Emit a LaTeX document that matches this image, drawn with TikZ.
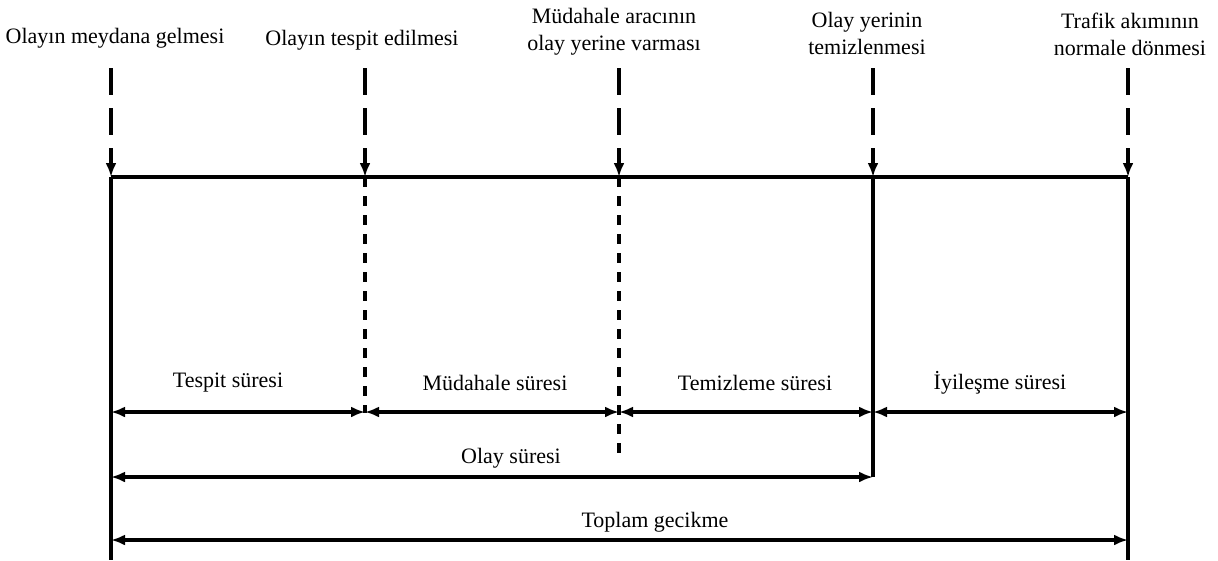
\documentclass[tikz,border=0pt]{standalone}
\usepackage{fontspec}
\setmainfont{Liberation Serif}
\usetikzlibrary{arrows.meta}

\begin{document}
\begin{tikzpicture}[x=1pt, y=-1pt,
    every node/.style={font=\fontsize{22}{27}\selectfont, align=center, inner sep=0pt},
    axisline/.style={line width=3.5pt},
    evarrow/.style={line width=3.5pt, dash pattern=on 27pt off 13pt, -{Latex[length=14pt,width=11pt]}},
    gapline/.style={line width=3.5pt, dash pattern=on 10pt off 9pt},
    span/.style={line width=3.5pt, {Latex[length=14pt,width=11pt]}-{Latex[length=14pt,width=11pt]}}]
  \useasboundingbox (0,0) rectangle (1218,560);

  % olaylar
  \node (ev1) at (115,38) {Olayın meydana gelmesi};
  \node (ev2) at (362,40) {Olayın tespit edilmesi};
  \node (ev3) at (614,32) {Müdahale aracının\\olay yerine varması};
  \node (ev4) at (867,33) {Olay yerinin\\temizlenmesi};
  \node (ev5) at (1130,34) {Trafik akımının\\normale dönmesi};

  \coordinate (t1) at (111,68);  \coordinate (a1) at (111,177);
  \coordinate (t2) at (365,68);  \coordinate (a2) at (365,177);
  \coordinate (t3) at (619,68);  \coordinate (a3) at (619,177);
  \coordinate (t4) at (873,68);  \coordinate (a4) at (873,177);
  \coordinate (t5) at (1128,68); \coordinate (a5) at (1128,177);

  \draw[evarrow] (t1) -- (a1);
  \draw[evarrow] (t2) -- (a2);
  \draw[evarrow] (t3) -- (a3);
  \draw[evarrow] (t4) -- (a4);
  \draw[evarrow] (t5) -- (a5);
  \draw[axisline] (a1) -- (a5);

  % dikey cizgiler
  \coordinate (b1) at (111,560);
  \coordinate (b2) at (365,413);
  \coordinate (b3) at (619,456);
  \coordinate (b4) at (873,477);
  \coordinate (b5) at (1128,560);
  \draw[axisline] (a1) -- (b1);
  \draw[gapline] (a2) -- (b2);
  \draw[gapline] (a3) -- (b3);
  \draw[axisline] (a4) -- (b4);
  \draw[axisline] (a5) -- (b5);

  % sureler
  \coordinate (r1) at (111,412);
  \coordinate (r2) at (365,412);
  \coordinate (r3) at (619,412);
  \coordinate (r4) at (873,412);
  \coordinate (r5) at (1128,412);
  \draw[span] (r1) -- (r2);
  \draw[span] (r2) -- (r3);
  \draw[span] (r3) -- (r4);
  \draw[span] (r4) -- (r5);
  \node (d1) at (228,383) {Tespit süresi};
  \node (d2) at (495,383) {Müdahale süresi};
  \node (d3) at (755,383) {Temizleme süresi};
  \node (d4) at (1000,383) {İyileşme süresi};

  \coordinate (o1) at (111,477);
  \coordinate (o4) at (873,477);
  \draw[span] (o1) -- (o4);
  \node (olay) at (511,458) {Olay süresi};

  \coordinate (g1) at (111,540);
  \coordinate (g5) at (1128,540);
  \draw[span] (g1) -- (g5);
  \node (toplam) at (655,522) {Toplam gecikme};
\end{tikzpicture}
\end{document}
